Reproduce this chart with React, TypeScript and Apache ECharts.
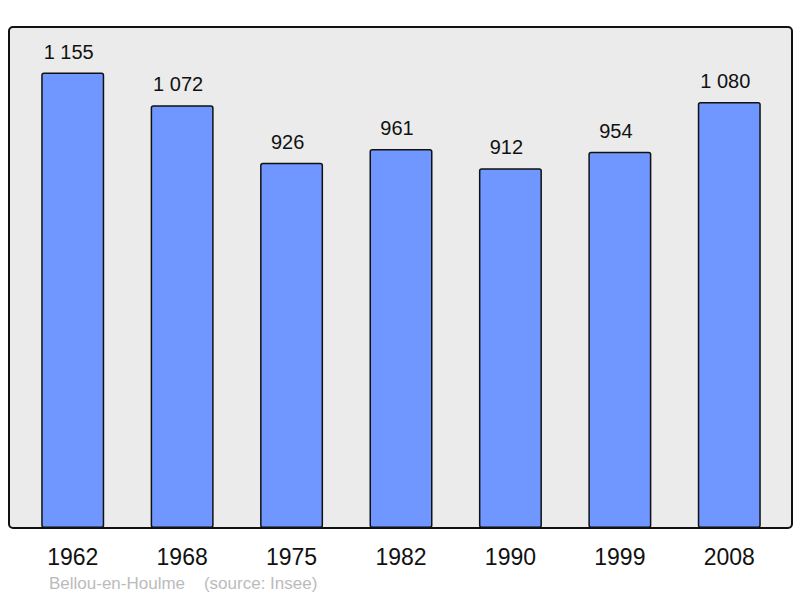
import React, { useEffect, useRef } from "react";
import * as echarts from "echarts";

const years = ["1962", "1968", "1975", "1982", "1990", "1999", "2008"];
const population = [1155, 1072, 926, 961, 912, 954, 1080];
const footer = "Bellou-en-Houlme    (source: Insee)";

const fmt = (v: number) => String(v).replace(/\B(?=(\d{3})+(?!\d))/g, " ");

export default function App() {
  const ref = useRef<HTMLDivElement>(null);
  useEffect(() => {
    const chart = echarts.init(ref.current!, null, { renderer: "svg" });
    chart.setOption({
      animation: false,
      backgroundColor: "#ffffff",
      graphic: [
        {
          type: "rect",
          z: -10,
          shape: { x: 9, y: 27, width: 783, height: 501, r: 4 },
          style: { fill: "#ebebeb", stroke: "#111", lineWidth: 2 },
        },
        {
          type: "text",
          left: 49,
          top: 575,
          style: {
            text: footer,
            fill: "#bbbbbb",
            font: "17px 'Liberation Sans', Arial, sans-serif",
          },
        },
      ],
      grid: { left: 18, right: 16, top: 27, bottom: 70 },
      xAxis: {
        type: "category",
        data: years,
        axisLine: { show: false },
        axisTick: { show: false },
        axisLabel: {
          margin: 17,
          fontSize: 23,
          color: "#111",
          fontFamily: "'Liberation Sans', Arial, sans-serif",
        },
      },
      yAxis: {
        type: "value",
        min: 0,
        max: 1270.5,
        show: false,
        splitLine: { show: false },
      },
      series: [
        {
          type: "bar",
          data: population,
          barWidth: 63,
          itemStyle: {
            color: "#7096ff",
            borderColor: "#111",
            borderWidth: 1.5,
            borderRadius: 2,
          },
          label: {
            show: true,
            position: "top",
            distance: 11,
            offset: [-4, 0],
            fontSize: 20,
            color: "#111",
            fontFamily: "'Liberation Sans', Arial, sans-serif",
            formatter: (p: any) => fmt(p.value),
          },
        },
      ],
    });
    return () => chart.dispose();
  }, []);
  return <div ref={ref} style={{ width: 800, height: 598, position: "absolute", left: 0, top: 0 }} />;
}
